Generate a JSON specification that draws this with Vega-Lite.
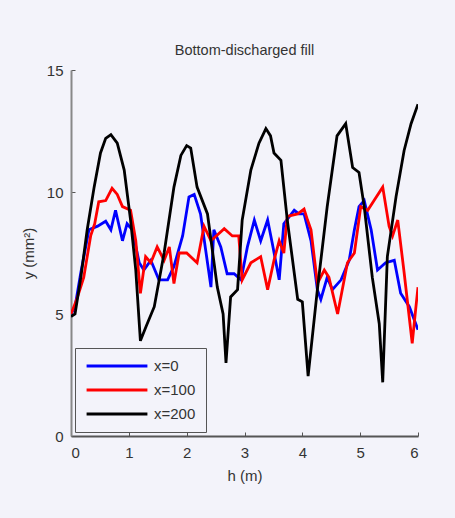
{
  "$schema": "https://vega.github.io/schema/vega-lite/v6.json",
  "autosize": "none",
  "width": 347,
  "height": 366,
  "padding": {"left": 71, "top": 70, "right": 37, "bottom": 82},
  "background": "#f3f3fa",
  "config": {
    "font": "Liberation Sans",
    "view": {"stroke": null},
    "axis": {"grid": false, "labelFont": "Liberation Sans", "titleFont": "Liberation Sans", "labelColor": "#333", "titleColor": "#333", "titleFontWeight": "normal", "labelFontSize": 15, "titleFontSize": 15, "tickSize": -4, "tickColor": "#555", "domainWidth": 2}
  },
  "title": {"text": "Bottom-discharged fill", "fontSize": 14.5, "fontWeight": "normal", "color": "#333", "anchor": "middle", "offset": 5},
  "data": {"values": [
    {"h":0,"y":5.0,"s":"x=0"},{"h":0.07,"y":5.3,"s":"x=0"},{"h":0.17,"y":6.7,"s":"x=0"},{"h":0.31,"y":8.45,"s":"x=0"},{"h":0.46,"y":8.6,"s":"x=0"},{"h":0.6,"y":8.8,"s":"x=0"},{"h":0.69,"y":8.45,"s":"x=0"},{"h":0.77,"y":9.25,"s":"x=0"},{"h":0.89,"y":8.0,"s":"x=0"},{"h":0.97,"y":8.7,"s":"x=0"},{"h":1.06,"y":8.45,"s":"x=0"},{"h":1.18,"y":7.1,"s":"x=0"},{"h":1.26,"y":6.8,"s":"x=0"},{"h":1.38,"y":7.2,"s":"x=0"},{"h":1.52,"y":6.4,"s":"x=0"},{"h":1.67,"y":6.4,"s":"x=0"},{"h":1.78,"y":6.95,"s":"x=0"},{"h":1.93,"y":8.2,"s":"x=0"},{"h":2.04,"y":9.8,"s":"x=0"},{"h":2.13,"y":9.9,"s":"x=0"},{"h":2.24,"y":9.1,"s":"x=0"},{"h":2.36,"y":7.1,"s":"x=0"},{"h":2.42,"y":6.1,"s":"x=0"},{"h":2.47,"y":8.45,"s":"x=0"},{"h":2.59,"y":7.75,"s":"x=0"},{"h":2.7,"y":6.65,"s":"x=0"},{"h":2.82,"y":6.65,"s":"x=0"},{"h":2.94,"y":6.4,"s":"x=0"},{"h":3.05,"y":7.75,"s":"x=0"},{"h":3.17,"y":8.85,"s":"x=0"},{"h":3.28,"y":8.0,"s":"x=0"},{"h":3.4,"y":8.85,"s":"x=0"},{"h":3.48,"y":7.9,"s":"x=0"},{"h":3.6,"y":6.4,"s":"x=0"},{"h":3.68,"y":8.7,"s":"x=0"},{"h":3.86,"y":9.25,"s":"x=0"},{"h":3.94,"y":9.1,"s":"x=0"},{"h":4.03,"y":9.1,"s":"x=0"},{"h":4.15,"y":8.0,"s":"x=0"},{"h":4.26,"y":6.0,"s":"x=0"},{"h":4.32,"y":5.6,"s":"x=0"},{"h":4.43,"y":6.5,"s":"x=0"},{"h":4.52,"y":6.0,"s":"x=0"},{"h":4.67,"y":6.4,"s":"x=0"},{"h":4.81,"y":7.2,"s":"x=0"},{"h":4.9,"y":8.45,"s":"x=0"},{"h":4.98,"y":9.4,"s":"x=0"},{"h":5.07,"y":9.65,"s":"x=0"},{"h":5.19,"y":8.45,"s":"x=0"},{"h":5.3,"y":6.8,"s":"x=0"},{"h":5.44,"y":7.1,"s":"x=0"},{"h":5.59,"y":7.2,"s":"x=0"},{"h":5.7,"y":5.85,"s":"x=0"},{"h":5.85,"y":5.3,"s":"x=0"},{"h":6.0,"y":4.35,"s":"x=0"},

    {"h":0,"y":5.0,"s":"x=100"},{"h":0.1,"y":5.6,"s":"x=100"},{"h":0.22,"y":6.5,"s":"x=100"},{"h":0.34,"y":8.2,"s":"x=100"},{"h":0.41,"y":8.7,"s":"x=100"},{"h":0.48,"y":9.6,"s":"x=100"},{"h":0.6,"y":9.65,"s":"x=100"},{"h":0.71,"y":10.15,"s":"x=100"},{"h":0.8,"y":9.9,"s":"x=100"},{"h":0.89,"y":9.4,"s":"x=100"},{"h":1.03,"y":9.25,"s":"x=100"},{"h":1.12,"y":8.0,"s":"x=100"},{"h":1.2,"y":5.85,"s":"x=100"},{"h":1.29,"y":7.35,"s":"x=100"},{"h":1.38,"y":7.1,"s":"x=100"},{"h":1.49,"y":7.75,"s":"x=100"},{"h":1.61,"y":7.2,"s":"x=100"},{"h":1.7,"y":7.75,"s":"x=100"},{"h":1.78,"y":6.25,"s":"x=100"},{"h":1.87,"y":7.5,"s":"x=100"},{"h":2.0,"y":7.5,"s":"x=100"},{"h":2.18,"y":7.1,"s":"x=100"},{"h":2.3,"y":8.6,"s":"x=100"},{"h":2.42,"y":8.0,"s":"x=100"},{"h":2.65,"y":8.5,"s":"x=100"},{"h":2.79,"y":8.2,"s":"x=100"},{"h":2.9,"y":8.2,"s":"x=100"},{"h":2.96,"y":6.4,"s":"x=100"},{"h":3.11,"y":7.1,"s":"x=100"},{"h":3.28,"y":7.35,"s":"x=100"},{"h":3.4,"y":6.0,"s":"x=100"},{"h":3.51,"y":7.2,"s":"x=100"},{"h":3.6,"y":8.0,"s":"x=100"},{"h":3.68,"y":7.5,"s":"x=100"},{"h":3.74,"y":9.0,"s":"x=100"},{"h":3.92,"y":9.1,"s":"x=100"},{"h":4.03,"y":9.3,"s":"x=100"},{"h":4.09,"y":8.85,"s":"x=100"},{"h":4.15,"y":8.45,"s":"x=100"},{"h":4.26,"y":6.25,"s":"x=100"},{"h":4.38,"y":6.8,"s":"x=100"},{"h":4.46,"y":6.5,"s":"x=100"},{"h":4.61,"y":5.0,"s":"x=100"},{"h":4.78,"y":7.1,"s":"x=100"},{"h":4.9,"y":7.5,"s":"x=100"},{"h":5.01,"y":9.4,"s":"x=100"},{"h":5.13,"y":9.25,"s":"x=100"},{"h":5.24,"y":9.65,"s":"x=100"},{"h":5.39,"y":10.2,"s":"x=100"},{"h":5.5,"y":8.6,"s":"x=100"},{"h":5.56,"y":8.2,"s":"x=100"},{"h":5.65,"y":8.85,"s":"x=100"},{"h":5.76,"y":6.7,"s":"x=100"},{"h":5.9,"y":3.8,"s":"x=100"},{"h":5.96,"y":5.2,"s":"x=100"},{"h":6.0,"y":6.1,"s":"x=100"},

    {"h":0,"y":4.9,"s":"x=200"},{"h":0.07,"y":5.0,"s":"x=200"},{"h":0.17,"y":6.5,"s":"x=200"},{"h":0.28,"y":8.45,"s":"x=200"},{"h":0.4,"y":10.2,"s":"x=200"},{"h":0.51,"y":11.6,"s":"x=200"},{"h":0.6,"y":12.2,"s":"x=200"},{"h":0.69,"y":12.35,"s":"x=200"},{"h":0.8,"y":12.0,"s":"x=200"},{"h":0.92,"y":10.9,"s":"x=200"},{"h":1.03,"y":8.85,"s":"x=200"},{"h":1.12,"y":6.8,"s":"x=200"},{"h":1.2,"y":3.9,"s":"x=200"},{"h":1.3,"y":4.5,"s":"x=200"},{"h":1.44,"y":5.3,"s":"x=200"},{"h":1.61,"y":7.5,"s":"x=200"},{"h":1.78,"y":10.2,"s":"x=200"},{"h":1.9,"y":11.5,"s":"x=200"},{"h":2.0,"y":11.9,"s":"x=200"},{"h":2.07,"y":11.8,"s":"x=200"},{"h":2.18,"y":10.2,"s":"x=200"},{"h":2.36,"y":9.1,"s":"x=200"},{"h":2.53,"y":6.1,"s":"x=200"},{"h":2.63,"y":5.0,"s":"x=200"},{"h":2.68,"y":3.0,"s":"x=200"},{"h":2.76,"y":5.7,"s":"x=200"},{"h":2.88,"y":6.0,"s":"x=200"},{"h":2.96,"y":8.85,"s":"x=200"},{"h":3.11,"y":10.9,"s":"x=200"},{"h":3.25,"y":12.0,"s":"x=200"},{"h":3.37,"y":12.6,"s":"x=200"},{"h":3.45,"y":12.3,"s":"x=200"},{"h":3.51,"y":11.6,"s":"x=200"},{"h":3.63,"y":11.3,"s":"x=200"},{"h":3.74,"y":8.85,"s":"x=200"},{"h":3.92,"y":5.6,"s":"x=200"},{"h":4.0,"y":5.5,"s":"x=200"},{"h":4.1,"y":2.45,"s":"x=200"},{"h":4.26,"y":6.0,"s":"x=200"},{"h":4.43,"y":9.4,"s":"x=200"},{"h":4.6,"y":12.3,"s":"x=200"},{"h":4.75,"y":12.8,"s":"x=200"},{"h":4.87,"y":11.0,"s":"x=200"},{"h":4.98,"y":10.8,"s":"x=200"},{"h":5.07,"y":9.4,"s":"x=200"},{"h":5.21,"y":6.5,"s":"x=200"},{"h":5.33,"y":4.6,"s":"x=200"},{"h":5.39,"y":2.2,"s":"x=200"},{"h":5.47,"y":7.35,"s":"x=200"},{"h":5.62,"y":9.8,"s":"x=200"},{"h":5.76,"y":11.7,"s":"x=200"},{"h":5.88,"y":12.8,"s":"x=200"},{"h":6.0,"y":13.6,"s":"x=200"}
  ]},
  "mark": {"type": "line", "strokeWidth": 2.8, "clip": true},
  "encoding": {
    "x": {"field": "h", "type": "quantitative", "scale": {"domain": [0, 6], "nice": false, "zero": false},
      "axis": {"title": "h (m)", "values": [0,1,2,3,4,5,6], "domainColor": "#555", "labelPadding": 13, "titlePadding": 8}},
    "y": {"field": "y", "type": "quantitative", "scale": {"domain": [0, 15], "nice": false},
      "axis": {"title": "y (mm²)", "values": [0,5,10,15], "domainColor": "#888", "labelPadding": 12, "titlePadding": 10}},
    "color": {"field": "s", "type": "nominal",
      "scale": {"domain": ["x=0", "x=100", "x=200"], "range": ["#0000ff", "#ff0000", "#000000"]},
      "legend": {"title": null, "orient": "bottom-left", "offset": 4, "symbolType": "stroke", "symbolSize": 3700, "symbolStrokeWidth": 3, "clipHeight": 16, "labelFontSize": 15, "labelColor": "#333", "labelFont": "Liberation Sans", "strokeColor": "#555", "fillColor": "#f3f3fa", "padding": 10, "rowPadding": 8, "labelOffset": 5}}
  }
}
